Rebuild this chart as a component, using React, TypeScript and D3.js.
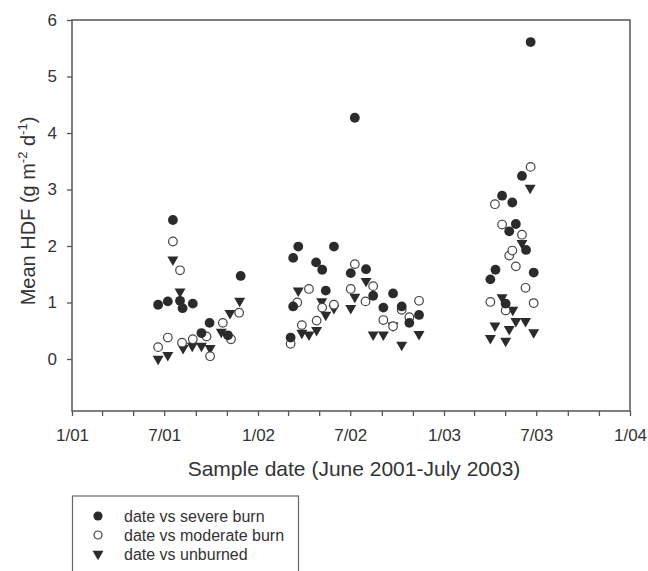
import React, { useEffect, useRef } from 'react';
import * as d3 from 'd3';

// sampling date + mean HDF
const severeBurn: [string, number][] = [
  ['2001-06-19', 0.96], ['2001-07-08', 1.02], ['2001-07-18', 2.46], ['2001-08-01', 1.03],
  ['2001-08-06', 0.9], ['2001-08-26', 0.98], ['2001-09-12', 0.46], ['2001-09-28', 0.64],
  ['2001-11-03', 0.42], ['2001-11-28', 1.47],
  ['2002-03-06', 0.38], ['2002-03-11', 1.79], ['2002-03-11', 0.93], ['2002-03-21', 1.99],
  ['2002-04-25', 1.71], ['2002-05-07', 1.58], ['2002-05-14', 1.21], ['2002-05-30', 1.99],
  ['2002-07-02', 1.52], ['2002-07-10', 4.27], ['2002-08-01', 1.59], ['2002-08-15', 1.12],
  ['2002-09-04', 0.91], ['2002-09-23', 1.16], ['2002-10-10', 0.93], ['2002-10-25', 0.64],
  ['2002-11-13', 0.78],
  ['2003-04-02', 1.41], ['2003-04-12', 1.58], ['2003-04-25', 2.89], ['2003-05-02', 0.98],
  ['2003-05-09', 2.26], ['2003-05-15', 2.77], ['2003-05-22', 2.39], ['2003-06-03', 3.24],
  ['2003-06-11', 1.93], ['2003-06-20', 5.61], ['2003-06-26', 1.53],
];

const moderateBurn: [string, number][] = [
  ['2001-06-19', 0.21], ['2001-07-08', 0.38], ['2001-07-18', 2.08], ['2001-08-01', 1.57],
  ['2001-08-05', 0.29], ['2001-08-26', 0.35], ['2001-09-22', 0.4], ['2001-09-29', 0.05],
  ['2001-10-24', 0.64], ['2001-11-09', 0.35], ['2001-11-25', 0.82],
  ['2002-03-06', 0.27], ['2002-03-19', 1.0], ['2002-03-28', 0.6], ['2002-04-11', 1.24],
  ['2002-04-26', 0.68], ['2002-05-07', 0.91], ['2002-05-30', 0.96], ['2002-07-02', 1.24],
  ['2002-07-10', 1.68], ['2002-07-31', 1.02], ['2002-08-15', 1.29], ['2002-09-04', 0.69],
  ['2002-09-23', 0.58], ['2002-10-10', 0.87], ['2002-10-25', 0.74], ['2002-11-13', 1.03],
  ['2003-04-02', 1.01], ['2003-04-11', 2.74], ['2003-04-25', 2.38], ['2003-05-02', 0.86],
  ['2003-05-09', 1.83], ['2003-05-15', 1.92], ['2003-05-22', 1.64], ['2003-06-03', 2.2],
  ['2003-06-10', 1.26], ['2003-06-20', 3.4], ['2003-06-26', 0.99],
];

const unburned: [string, number][] = [
  ['2001-06-19', 0.0], ['2001-07-08', 0.07], ['2001-07-18', 1.76], ['2001-08-01', 1.19],
  ['2001-08-07', 0.19], ['2001-08-25', 0.23], ['2001-09-12', 0.23], ['2001-09-29', 0.19],
  ['2001-10-21', 0.48], ['2001-11-07', 0.81], ['2001-11-26', 1.03],
  ['2002-03-21', 1.21], ['2002-03-28', 0.46], ['2002-04-11', 0.43], ['2002-04-26', 0.51],
  ['2002-05-06', 1.02], ['2002-05-14', 0.78], ['2002-05-30', 0.9], ['2002-07-02', 0.9],
  ['2002-07-10', 1.1], ['2002-08-01', 1.38], ['2002-08-15', 0.43], ['2002-09-04', 0.43],
  ['2002-09-23', 0.59], ['2002-10-10', 0.25], ['2002-11-13', 0.44],
  ['2003-04-02', 0.37], ['2003-04-11', 0.59], ['2003-04-25', 1.09], ['2003-05-02', 0.32],
  ['2003-05-09', 0.53], ['2003-05-16', 0.87], ['2003-05-22', 0.67], ['2003-06-03', 2.05],
  ['2003-06-10', 0.67], ['2003-06-19', 3.03], ['2003-06-26', 0.47],
];

const yTicks = [0, 1, 2, 3, 4, 5, 6];
const xMajorTicks = ['2001-01-01', '2001-07-01', '2002-01-01', '2002-07-01', '2003-01-01', '2003-07-01', '2004-01-01'];
const xTickLabels = ['1/01', '7/01', '1/02', '7/02', '1/03', '7/03', '1/04'];
const legendLabels = ['date vs severe burn', 'date vs moderate burn', 'date vs unburned'];

const FONT = '"Liberation Sans", Arial, Helvetica, sans-serif';
const INK = '#2b2b2b';
const AXIS = '#555';

const HdfScatter = () => {
  const ref = useRef<SVGSVGElement>(null);

  useEffect(() => {
    const svg = d3.select(ref.current);
    //clear plot
    svg.selectAll('*').remove();

    const width = 648;
    const margins = { top: 20, left: 72, right: 18, bottom: 160 };
    const parse = d3.timeParse('%Y-%m-%d');

    const xScale = d3.scaleTime()
      .domain([parse('2001-01-01')!, parse('2004-01-01')!])
      .range([margins.left, width - margins.right]);

    const yScale = d3.scaleLinear()
      .domain([-0.92, 6])
      .range([411, margins.top]);

    const g = svg.append('g').style('font-family', FONT);

    // y axis
    const yAxis = g.append('g')
      .attr('transform', `translate(${margins.left},0)`)
      .call(d3.axisLeft(yScale).tickValues(yTicks).tickFormat(d3.format('d')).tickSize(5).tickPadding(10).tickSizeOuter(0));
    yAxis.select('.domain').remove();
    yAxis.selectAll('line').attr('stroke', AXIS).attr('stroke-width', 1.3);
    yAxis.selectAll('text').attr('font-size', 17).attr('fill', '#333').style('font-family', FONT);

    // x axis, ticks every two months
    const majors = xMajorTicks.map(s => +parse(s)!);
    const xAxis = g.append('g')
      .attr('transform', `translate(0,${yScale(-0.92)})`)
      .call(
        d3.axisBottom(xScale)
          .ticks(d3.timeMonth.every(2))
          .tickSize(5)
          .tickPadding(13)
          .tickSizeOuter(0)
          .tickFormat((d: any) => {
            const i = majors.indexOf(+d);
            return i >= 0 ? xTickLabels[i] : '';
          })
      );
    xAxis.select('.domain').remove();
    xAxis.selectAll('line').attr('stroke', AXIS).attr('stroke-width', 1.3);
    xAxis.selectAll('text').attr('font-size', 17).attr('fill', '#333').style('font-family', FONT);

    // plot frame
    g.append('rect')
      .attr('x', margins.left)
      .attr('y', margins.top)
      .attr('width', width - margins.right - margins.left)
      .attr('height', yScale(-0.92) - margins.top)
      .attr('fill', 'none')
      .attr('stroke', AXIS)
      .attr('stroke-width', 1.5);

    const tri = d3.symbol().type(d3.symbolTriangle).size(52);

    // unburned (triangles) drawn first, circles over them
    g.selectAll('.unb')
      .data(unburned)
      .enter()
      .append('path')
      .attr('d', tri)
      .attr('transform', d => `translate(${xScale(parse(d[0])!)},${yScale(d[1])}) rotate(180)`)
      .attr('fill', INK);

    g.selectAll('.mod')
      .data(moderateBurn)
      .enter()
      .append('circle')
      .attr('cx', d => xScale(parse(d[0])!))
      .attr('cy', d => yScale(d[1]))
      .attr('r', 4.3)
      .attr('fill', 'white')
      .attr('stroke', '#444')
      .attr('stroke-width', 1.2);

    g.selectAll('.sev')
      .data(severeBurn)
      .enter()
      .append('circle')
      .attr('cx', d => xScale(parse(d[0])!))
      .attr('cy', d => yScale(d[1]))
      .attr('r', 4.9)
      .attr('fill', INK);

    // axis titles
    g.append('text')
      .attr('x', (margins.left + width - margins.right) / 2 + 3)
      .attr('y', 476)
      .attr('text-anchor', 'middle')
      .attr('font-size', 21)
      .attr('fill', '#333')
      .text('Sample date (June 2001-July 2003)');

    const yTitle = g.append('text')
      .attr('transform', 'translate(35,211) rotate(-90)')
      .attr('text-anchor', 'middle')
      .attr('font-size', 20)
      .attr('fill', '#333');
    yTitle.append('tspan').text('Mean HDF (g m');
    yTitle.append('tspan').attr('font-size', 13).attr('dy', -8).text('-2');
    yTitle.append('tspan').attr('dy', 8).text(' d');
    yTitle.append('tspan').attr('font-size', 13).attr('dy', -8).text('-1');
    yTitle.append('tspan').attr('dy', 8).text(')');

    // legend
    const legend = g.append('g');
    legend.append('rect')
      .attr('x', 72.5)
      .attr('y', 496)
      .attr('width', 226)
      .attr('height', 100)
      .attr('fill', 'none')
      .attr('stroke', '#666')
      .attr('stroke-width', 1.2);

    const rows = legend.selectAll('.row')
      .data(legendLabels)
      .enter()
      .append('g')
      .attr('transform', (_d, i) => `translate(98,${516 + i * 19})`);

    rows.each(function (_d, i) {
      const r = d3.select(this);
      if (i === 0) r.append('circle').attr('r', 4.6).attr('fill', INK);
      else if (i === 1) r.append('circle').attr('r', 4).attr('fill', 'white').attr('stroke', '#444').attr('stroke-width', 1.2);
      else r.append('path').attr('d', tri).attr('transform', 'rotate(180)').attr('fill', INK);
    });

    rows.append('text')
      .attr('x', 26)
      .attr('dy', '0.35em')
      .attr('font-size', 16)
      .attr('fill', '#333')
      .text(d => d);
  }, []);

  return (
    <svg ref={ref} width={648} height={571} style={{ position: 'absolute', left: 0, top: 0 }}></svg>
  );
};

export default function App() {
  return <HdfScatter />;
}
